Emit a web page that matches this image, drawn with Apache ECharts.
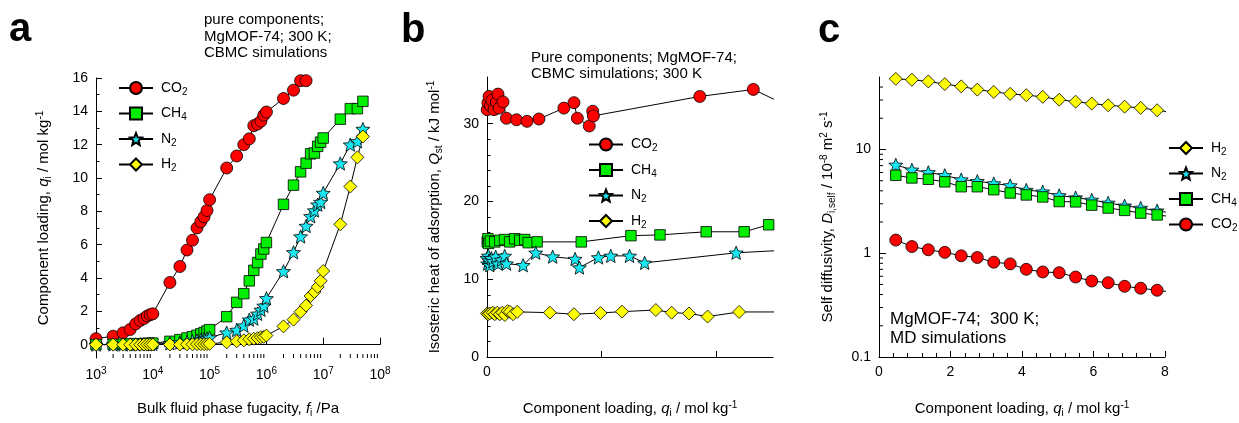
<!DOCTYPE html>
<html>
<head>
<meta charset="utf-8">
<script src="https://cdn.jsdelivr.net/npm/echarts@6/dist/echarts.min.js"></script>
<style>
  html, body { margin: 0; padding: 0; background: #fff; }
  #chart { width: 1239px; height: 423px; }
</style>
</head>
<body>
<div id="chart"></div>
<script>
// ---- panel a: pure component isotherms, loading vs bulk fugacity ----
const fugacity = [1e3, 2e3, 3e3, 4e3, 5e3, 6e3, 7e3, 8e3, 9e3, 1e4,
  2e4, 3e4, 4e4, 5e4, 6e4, 7e4, 8e4, 9e4, 1e5,
  2e5, 3e5, 4e5, 5e5, 6e5, 7e5, 8e5, 9e5, 1e6,
  2e6, 3e6, 4e6, 5e6, 6e6, 7e6, 8e6, 9e6, 1e7,
  2e7, 3e7, 4e7, 5e7]
const loadCO2a = [0.36, 0.51, 0.71, 0.91, 1.25, 1.45, 1.57, 1.72, 1.8, 1.85,
  3.73, 4.69, 5.68, 6.27, 7.0, 7.38, 7.67, 8.05, 8.7,
  10.6, 11.32, 12.0, 12.35, 13.14, 13.24, 13.41, 13.77, 13.96,
  14.77, 15.27, 15.84, 15.84]
const loadCH4a = [0.01, 0.02, 0.03, 0.04, 0.05, 0.05, 0.06, 0.07, 0.08, 0.09,
  0.2, 0.3, 0.4, 0.48, 0.56, 0.65, 0.73, 0.82, 0.9,
  1.68, 2.54, 3.06, 3.83, 4.46, 4.93, 5.44, 5.74, 6.13,
  8.42, 9.57, 10.37, 10.89, 11.45, 11.5, 11.9, 12.15, 12.4,
  13.53, 14.16, 14.16, 14.6]
const loadN2a = [0.0, 0.01, 0.01, 0.02, 0.02, 0.03, 0.03, 0.03, 0.04, 0.04,
  0.08, 0.13, 0.17, 0.21, 0.25, 0.29, 0.33, 0.37, 0.42,
  0.72, 0.88, 1.14, 1.5, 1.56, 1.85, 2.09, 2.33, 2.78,
  4.4, 5.54, 6.49, 7.12, 7.7, 8.05, 8.4, 8.56, 9.1,
  10.87, 12.0, 12.2, 12.94]
const loadH2a = [0.0, 0.0, 0.0, 0.0, 0.0, 0.0, 0.01, 0.01, 0.01, 0.01,
  0.01, 0.01, 0.02, 0.02, 0.03, 0.03, 0.03, 0.04, 0.05,
  0.14, 0.2, 0.26, 0.32, 0.36, 0.39, 0.45, 0.47, 0.55,
  1.1, 1.5, 1.97, 2.35, 2.92, 3.16, 3.47, 3.83, 4.42,
  7.22, 9.49, 11.24, 12.49]
const fugMinorTicks = [2e3, 3e3, 4e3, 5e3, 6e3, 7e3, 8e3, 9e3,
  2e4, 3e4, 4e4, 5e4, 6e4, 7e4, 8e4, 9e4,
  2e5, 3e5, 4e5, 5e5, 6e5, 7e5, 8e5, 9e5,
  2e6, 3e6, 4e6, 5e6, 6e6, 7e6, 8e6, 9e6,
  2e7, 3e7, 4e7, 5e7, 6e7, 7e7, 8e7, 9e7]
const loadTicksA = [0, 2, 4, 6, 8, 10, 12, 14, 16]
const loadMinorA = [1, 3, 5, 7, 9, 11, 13, 15]

// ---- panel b: isosteric heat of adsorption vs loading ----
const qCO2b = [0.01, 0.04, 0.09, 0.15, 0.22, 0.31, 0.41, 0.48, 0.53, 0.70, 0.85,
  1.29, 1.75, 2.27, 3.36, 3.80, 3.95, 4.47, 4.62, 4.65, 9.30, 11.64, 13.0]
const heatCO2b = [31.8, 32.7, 33.5, 32.3, 33.0, 31.8, 32.8, 33.8, 32.0, 32.8, 30.7,
  30.5, 30.3, 30.6, 32.0, 32.7, 30.7, 29.7, 31.6, 31.0, 33.5, 34.4, 32.5]
const qCH4b = [0.01, 0.04, 0.07, 0.15, 0.34, 0.56, 0.77, 0.99, 1.21, 1.43, 1.65,
  1.80, 2.19, 4.12, 6.29, 7.56, 9.58, 11.24, 12.31]
const heatCH4b = [14.8, 15.2, 14.6, 14.9, 14.8, 15.0, 15.1, 14.8, 15.2, 15.0, 15.1,
  14.7, 14.8, 14.8, 15.6, 15.7, 16.1, 16.1, 17.0]
const qN2b = [0.0, 0.03, 0.06, 0.09, 0.12, 0.19, 0.26, 0.38, 0.48, 0.63, 0.77, 0.85,
  1.58, 2.13, 2.87, 3.85, 4.04, 4.87, 5.41, 6.23, 6.89, 10.89, 13.0]
const heatN2b = [12.7, 12.0, 13.0, 12.4, 11.8, 12.7, 12.3, 12.9, 12.0, 12.5, 13.0, 12.0,
  11.8, 13.4, 12.9, 12.6, 11.5, 12.8, 13.0, 13.0, 12.1, 13.4, 13.72]
const qH2b = [0.0, 0.05, 0.12, 0.25, 0.34, 0.45, 0.56, 0.67, 0.78, 0.9, 1.0, 1.14, 1.32,
  2.75, 3.80, 4.96, 5.9, 7.38, 8.07, 8.83, 9.64, 11.02, 13.0]
const heatH2b = [5.6, 5.5, 5.6, 5.7, 5.5, 5.7, 5.5, 5.7, 5.4, 5.9, 5.8, 5.5, 5.8,
  5.7, 5.5, 5.66, 5.83, 6.04, 5.7, 5.6, 5.2, 5.79, 5.79]
const heatTicksB = [0, 10, 20, 30]
const heatMinorB = [2, 4, 6, 8, 12, 14, 16, 18, 22, 24, 26, 28, 32, 34]

// ---- panel c: self diffusivities vs loading ----
const qC = [0.47, 0.92, 1.38, 1.84, 2.30, 2.75, 3.21, 3.67, 4.12, 4.58,
  5.04, 5.50, 5.95, 6.41, 6.87, 7.32, 7.78, 8.24]
const diffH2c = [48.0, 47.0, 45.3, 42.7, 40.6, 37.8, 35.9, 34.4, 33.4, 32.2,
  30.2, 28.9, 27.7, 26.7, 25.9, 25.2, 23.9, 22.7]
const diffN2c = [7.11, 6.37, 6.02, 5.64, 5.13, 4.95, 4.70, 4.50, 4.07, 3.92,
  3.61, 3.44, 3.27, 3.06, 2.87, 2.73, 2.57, 2.42]
const diffCH4c = [5.64, 5.32, 5.17, 4.88, 4.38, 4.38, 4.10, 3.81, 3.65, 3.49,
  3.15, 3.13, 2.91, 2.73, 2.59, 2.44, 2.34, 2.24]
const diffCO2c = [1.34, 1.16, 1.08, 1.02, 0.945, 0.91, 0.82, 0.79, 0.70, 0.66,
  0.65, 0.59, 0.54, 0.52, 0.48, 0.46, 0.44, 0.42]
const diffMinorC = [0.2, 0.3, 0.4, 0.5, 0.6, 0.7, 0.8, 0.9,
  2, 3, 4, 5, 6, 7, 8, 9, 20, 30, 40]

const FONT = '"Liberation Sans", Arial, sans-serif'
const STAR = 'path://M50 0 L62.93 32.2 L97.55 34.55 L70.92 56.8 L79.39 90.45 L50 72 L20.61 90.45 L29.08 56.8 L2.45 34.55 L37.07 32.2 Z'
const SYM = { CO2: 'circle', CH4: 'rect', N2: STAR, H2: 'diamond' }
const FILL = { CO2: '#ff0000', CH4: '#00ee00', N2: '#19e6f0', H2: '#ffff00' }
const SIZE = { CO2: 12, CH4: 10.5, N2: 14, H2: 13 }

const pairs = (xs, ys) => ys.map((y, i) => [xs[i], y])
const yMinA = -0.8

const rich = {
  it: { fontStyle: 'italic', fontSize: 15, fontFamily: FONT, color: '#000' },
  sub: { fontSize: 10, fontFamily: FONT, color: '#000', verticalAlign: 'bottom', padding: [8, 0, 0, 0] },
  sup: { fontSize: 10, fontFamily: FONT, color: '#000', verticalAlign: 'top', padding: [0, 0, 8, 0] }
}
const nameStyle = { fontSize: 15, fontFamily: FONT, color: '#000', rich: rich }
const labelStyle = { fontSize: 14, fontFamily: FONT, color: '#000' }
const axisLine = { show: true, lineStyle: { color: '#000', width: 1 } }

function line(name, xi, yi, data) {
  return {
    name: name, type: 'line', xAxisIndex: xi, yAxisIndex: yi, data: data,
    symbol: SYM[name], symbolSize: SIZE[name], symbolKeepAspect: true,
    showAllSymbol: true, clip: true,
    lineStyle: { color: '#000', width: 1 },
    itemStyle: { color: FILL[name], borderColor: '#000', borderWidth: 0.8 },
    emphasis: { disabled: true }
  }
}

function tickSeries(xi, yi, data, dir) {
  return {
    type: 'custom', xAxisIndex: xi, yAxisIndex: yi, silent: true, clip: false, z: 5,
    data: data,
    renderItem: function (params, api) {
      const c = api.coord([api.value(0), api.value(1)])
      const shape = dir === 'up'
        ? { x1: c[0], y1: c[1], x2: c[0], y2: c[1] - 4 }
        : { x1: c[0], y1: c[1], x2: c[0] + 4, y2: c[1] }
      return { type: 'line', shape: shape, style: { stroke: '#000', lineWidth: 1 } }
    }
  }
}

function legend(names, left, top, gap) {
  return {
    orient: 'vertical', left: left, top: top, padding: 0,
    itemWidth: 34, itemHeight: 15, itemGap: gap,
    data: names,
    formatter: n => n.replace(/(\d)/, '{sub|$1}'),
    textStyle: {
      fontSize: 14, fontFamily: FONT, color: '#000', padding: [0, 0, 0, 3],
      rich: { sub: { fontSize: 10, fontFamily: FONT, color: '#000', verticalAlign: 'bottom', padding: [8, 0, 0, 0] } }
    }
  }
}

const chart = echarts.init(document.getElementById('chart'))
chart.setOption({
  animation: false,
  backgroundColor: '#fff',
  grid: [
    { left: 96, top: 78, width: 284, height: 283 },
    { left: 487, top: 77, width: 286, height: 285 },
    { left: 879, top: 77, width: 286, height: 285 }
  ],
  xAxis: [
    {
      gridIndex: 0, type: 'log', logBase: 10, min: 1e3, max: 1e8,
      axisLine: axisLine, splitLine: { show: false },
      axisTick: { inside: true, length: 7, lineStyle: { color: '#000' } },
      axisLabel: {
        ...labelStyle, margin: 8,
        formatter: v => '10{sup|' + Math.round(Math.log10(v)) + '}',
        rich: { sup: { fontSize: 10, fontFamily: FONT, color: '#000', verticalAlign: 'top', padding: [0, 0, 8, 0] } }
      },
      name: 'Bulk fluid phase fugacity, {it|f}{sub|i} /Pa', nameLocation: 'middle', nameGap: 42,
      nameTextStyle: nameStyle
    },
    {
      gridIndex: 1, type: 'value', min: 0, max: 12.5,
      axisLine: axisLine, splitLine: { show: false },
      axisTick: { inside: true, length: 6, customValues: [0, 5, 10], lineStyle: { color: '#000' } },
      axisLabel: { ...labelStyle, margin: 8, customValues: [0] },
      name: 'Component loading, {it|q}{sub|i} / mol kg{sup|-1}', nameLocation: 'middle', nameGap: 43,
      nameTextStyle: nameStyle
    },
    {
      gridIndex: 2, type: 'value', min: 0, max: 8, interval: 2,
      axisLine: axisLine, splitLine: { show: false },
      axisTick: { inside: true, length: 6, lineStyle: { color: '#000' } },
      minorTick: { show: true, splitNumber: 5, length: 4, lineStyle: { color: '#000' } },
      axisLabel: { ...labelStyle, margin: 8 },
      name: 'Component loading, {it|q}{sub|i} / mol kg{sup|-1}', nameLocation: 'middle', nameGap: 43,
      nameTextStyle: nameStyle
    }
  ],
  yAxis: [
    {
      gridIndex: 0, type: 'value', min: yMinA, max: 16,
      axisLine: axisLine, splitLine: { show: false },
      axisTick: { inside: true, length: 6, customValues: loadTicksA, lineStyle: { color: '#000' } },
      axisLabel: { ...labelStyle, margin: 8, customValues: loadTicksA },
      name: 'Component loading, {it|q}{sub|i} / mol kg{sup|-1}', nameLocation: 'middle', nameGap: 43,
      nameTextStyle: nameStyle
    },
    {
      gridIndex: 0, type: 'value', min: yMinA, max: 16, position: 'left',
      axisLine: { show: false }, splitLine: { show: false }, axisLabel: { show: false },
      axisTick: { inside: true, length: 3.5, customValues: loadMinorA, lineStyle: { color: '#000' } }
    },
    {
      gridIndex: 1, type: 'value', min: 0, max: 36,
      axisLine: axisLine, splitLine: { show: false },
      axisTick: { inside: true, length: 6, customValues: heatTicksB, lineStyle: { color: '#000' } },
      axisLabel: { ...labelStyle, margin: 8, customValues: heatTicksB },
      name: 'Isosteric heat of adsorption, {it|Q}{sub|st} / kJ mol{sup|-1}', nameLocation: 'middle', nameGap: 43,
      nameTextStyle: nameStyle
    },
    {
      gridIndex: 1, type: 'value', min: 0, max: 36, position: 'left',
      axisLine: { show: false }, splitLine: { show: false }, axisLabel: { show: false },
      axisTick: { inside: true, length: 3.5, customValues: heatMinorB, lineStyle: { color: '#000' } }
    },
    {
      gridIndex: 2, type: 'log', logBase: 10, min: 0.1, max: 50,
      axisLine: axisLine, splitLine: { show: false },
      axisTick: { inside: true, length: 7, lineStyle: { color: '#000' } },
      axisLabel: {
        ...labelStyle, margin: 8, showMaxLabel: false,
        formatter: v => v > 20 ? '' : (v < 1 ? v.toFixed(1) : String(Math.round(v)))
      },
      name: 'Self diffusivity, {it|D}{sub|i,self} / 10{sup|-8} m{sup|2} s{sup|-1}', nameLocation: 'middle', nameGap: 42,
      nameTextStyle: nameStyle
    }
  ],
  legend: [
    legend(['CO2', 'CH4', 'N2', 'H2'], 118, 81, 9.5),
    legend(['CO2', 'CH4', 'N2', 'H2'], 588, 137.5, 9.5),
    legend(['H2', 'N2', 'CH4', 'CO2'], 1168, 141, 9.5)
  ],
  graphic: [
    { type: 'text', x: 9, y: 30, style: { text: 'a', font: 'bold 40px ' + FONT, fill: '#000', verticalAlign: 'middle' } },
    { type: 'text', x: 401, y: 31, style: { text: 'b', font: 'bold 40px ' + FONT, fill: '#000', verticalAlign: 'middle' } },
    { type: 'text', x: 818, y: 31, style: { text: 'c', font: 'bold 40px ' + FONT, fill: '#000', verticalAlign: 'middle' } },
    { type: 'text', x: 204, y: 12, style: { text: 'pure components;\nMgMOF-74; 300 K;\nCBMC simulations', font: '15px ' + FONT, lineHeight: 16.5, fill: '#000', verticalAlign: 'top' } },
    { type: 'text', x: 531, y: 50.5, style: { text: 'Pure components; MgMOF-74;\nCBMC simulations; 300 K', font: '15px ' + FONT, lineHeight: 15.5, fill: '#000', verticalAlign: 'top' } },
    { type: 'text', x: 890, y: 310, style: { text: 'MgMOF-74;  300 K;\nMD simulations', font: '17px ' + FONT, lineHeight: 19, fill: '#000', verticalAlign: 'top' } }
  ],
  series: [
    line('CO2', 0, 0, pairs(fugacity, loadCO2a)),
    line('CH4', 0, 0, pairs(fugacity, loadCH4a)),
    line('N2', 0, 0, pairs(fugacity, loadN2a)),
    line('H2', 0, 0, pairs(fugacity, loadH2a)),
    tickSeries(0, 0, fugMinorTicks.map(v => [v, yMinA]), 'up'),

    line('CO2', 1, 2, pairs(qCO2b, heatCO2b)),
    line('CH4', 1, 2, pairs(qCH4b, heatCH4b)),
    line('N2', 1, 2, pairs(qN2b, heatN2b)),
    line('H2', 1, 2, pairs(qH2b, heatH2b)),

    line('H2', 2, 4, pairs(qC, diffH2c)),
    line('N2', 2, 4, pairs(qC, diffN2c)),
    line('CH4', 2, 4, pairs(qC, diffCH4c)),
    line('CO2', 2, 4, pairs(qC, diffCO2c)),
    tickSeries(2, 4, diffMinorC.map(v => [0, v]), 'right')
  ]
})
</script>
</body>
</html>
